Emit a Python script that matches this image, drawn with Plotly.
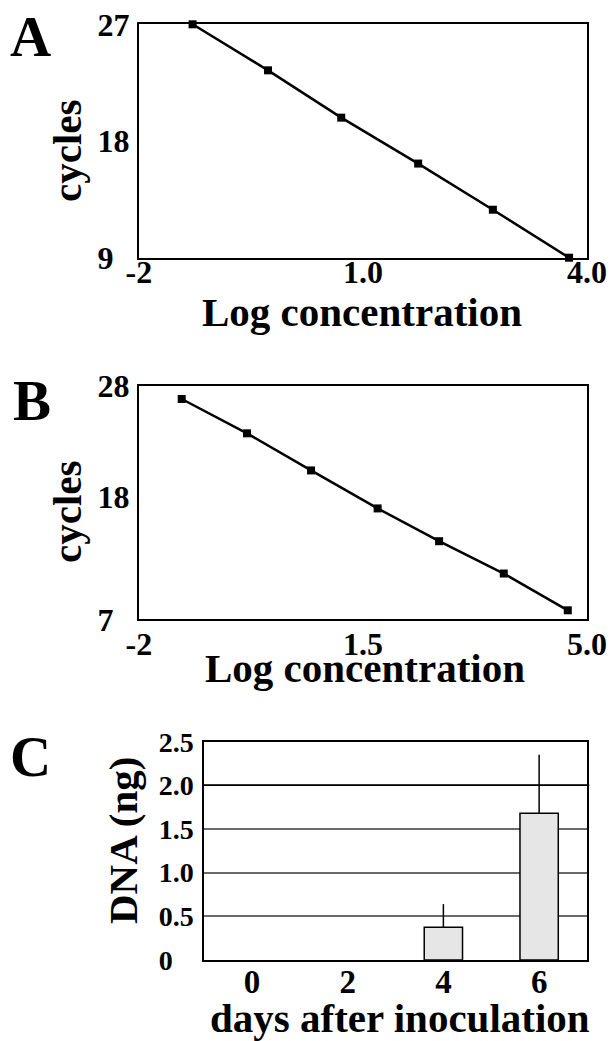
import plotly.graph_objects as go

# ---------------- data ----------------
a_log_conc = [-1.28, -0.27, 0.71, 1.74, 2.74, 3.76]
a_cycles = [27.0, 23.45, 19.8, 16.26, 12.7, 9.0]
a_xtick_vals = [-2, 1, 4]
a_xtick_text = ["-2", "1.0", "4.0"]
a_ytick_vals = [9, 18, 27]
a_ytick_text = ["9", "18", "27"]

b_log_conc = [-1.33, -0.31, 0.69, 1.73, 2.69, 3.70, 4.70]
b_cycles = [26.83, 23.74, 20.4, 16.98, 14.03, 11.12, 7.81]
b_xtick_vals = [-2, 1.5, 5]
b_xtick_text = ["-2", "1.5", "5.0"]
b_ytick_vals = [7, 18, 28]
b_ytick_text = ["7", "18", "28"]

c_days = ["0", "2", "4", "6"]
c_dna = [0, 0, 0.375, 1.68]
c_err = [0, 0, 0.265, 0.67]
c_ytick_vals = [0, 0.5, 1.0, 1.5, 2.0, 2.5]
c_ytick_text = ["0", "0.5", "1.0", "1.5", "2.0", "2.5"]

# ---------------- layout helpers ----------------
W, H = 615, 1041
FONT = "Liberation Serif"
FIG_SP, PUNCT_SP = "\u2007", "\u2008"


def px(x):
    return x / W


def py(y):
    return 1 - y / H


def left_align(labels):
    """Pad labels with invisible digit/punctuation-width spaces so they read left-aligned."""
    def shape(s):
        return "".join(FIG_SP if ch.isdigit() else PUNCT_SP for ch in s)
    longest = max(labels, key=len)
    return [s + shape(longest[len(s):]) for s in labels]


fig = go.Figure()

line_style = dict(color="black", width=2.5)
marker_style = dict(symbol="square", size=8, color="black")

fig.add_trace(go.Scatter(x=a_log_conc, y=a_cycles, mode="lines+markers",
                         line=line_style, marker=marker_style,
                         xaxis="x", yaxis="y", cliponaxis=False, showlegend=False))
fig.add_trace(go.Scatter(x=b_log_conc, y=b_cycles, mode="lines+markers",
                         line=line_style, marker=marker_style,
                         xaxis="x2", yaxis="y2", cliponaxis=False, showlegend=False))
bar_outline = [1.5 if v > 0 else 0 for v in c_dna]
fig.add_trace(go.Bar(x=c_days, y=c_dna, width=0.4,
                     marker=dict(color="#e6e6e6", line=dict(color="black", width=bar_outline)),
                     error_y=dict(type="data", array=c_err, arrayminus=[0] * len(c_err),
                                  symmetric=False, width=0, thickness=1.5, color="black"),
                     xaxis="x3", yaxis="y3", showlegend=False))

tick_font = dict(family=FONT, size=32, color="black", weight="bold")
ax_common = dict(showline=True, linecolor="black", linewidth=2, mirror=True,
                 showgrid=False, zeroline=False, ticks="", automargin=False,
                 fixedrange=True)

xA = (px(138.8), px(587))
fig.update_layout(
    xaxis=dict(domain=list(xA), range=[-2, 4], tickvals=a_xtick_vals, ticktext=a_xtick_text,
               tickfont=tick_font, anchor="y", ticklabelstandoff=-15, **ax_common),
    yaxis=dict(domain=[py(257.7), py(24.3)], range=[9, 27], tickvals=a_ytick_vals,
               ticktext=left_align(a_ytick_text),
               tickfont=tick_font, anchor="x", ticklabelstandoff=1, **ax_common),
    xaxis2=dict(domain=list(xA), range=[-2, 5], tickvals=b_xtick_vals, ticktext=b_xtick_text,
                tickfont=tick_font, anchor="y2", ticklabelstandoff=-5, **ax_common),
    yaxis2=dict(domain=[py(619.3), py(386)], range=[7, 28], tickvals=b_ytick_vals,
                ticktext=left_align(b_ytick_text),
                tickfont=tick_font, anchor="x2", ticklabelstandoff=1, **ax_common),
    xaxis3=dict(domain=[px(204), px(587)], range=[-0.5, 3.5],
                tickfont=dict(family=FONT, size=33, color="black", weight="bold"),
                anchor="y3", ticklabelstandoff=-8,
                **{**ax_common, "linewidth": 1.5}),
    yaxis3=dict(domain=[py(960), py(741.7)], range=[0, 2.5], tickvals=c_ytick_vals,
                ticktext=left_align(c_ytick_text),
                tickfont=dict(family=FONT, size=28, color="black", weight="bold"),
                anchor="x3", ticklabelstandoff=3,
                **{**ax_common, "linewidth": 1.5, "showgrid": True},
                gridcolor="#6a6a6a", gridwidth=1.5),
)

# black line at 2.0 in panel C
fig.add_shape(type="line", xref="x3 domain", yref="y3", x0=0, x1=1.006, y0=2.0, y1=2.0,
              line=dict(color="black", width=1.5))

title_font = dict(family=FONT, size=41, color="black", weight="bold")
letter_font = dict(family=FONT, size=57, color="black", weight="bold")

annots = [
    # panel letters
    dict(text="A", x=px(30), y=py(37), font=letter_font),
    dict(text="B", x=px(32), y=py(400), font=letter_font),
    dict(text="C", x=px(30), y=py(756), font=letter_font),
    # x titles
    dict(text="Log concentration", x=px(362), y=py(312), font=title_font),
    dict(text="Log concentration", x=px(365), y=py(668), font=title_font),
    dict(text="days after inoculation", x=px(400), y=py(1018), font=title_font),
    # y titles
    dict(text="cycles", x=px(67), y=py(151), font=title_font, textangle=-90),
    dict(text="cycles", x=px(67), y=py(512), font=title_font, textangle=-90),
    dict(text="DNA (ng)", x=px(123), y=py(841), font=title_font, textangle=-90),
]
for a in annots:
    fig.add_annotation(xref="paper", yref="paper", xanchor="center", yanchor="middle",
                       showarrow=False, **a)

fig.update_layout(width=W, height=H, margin=dict(l=0, r=0, t=0, b=0),
                  paper_bgcolor="white", plot_bgcolor="white", bargap=0.6)

fig.write_html("out.html")
